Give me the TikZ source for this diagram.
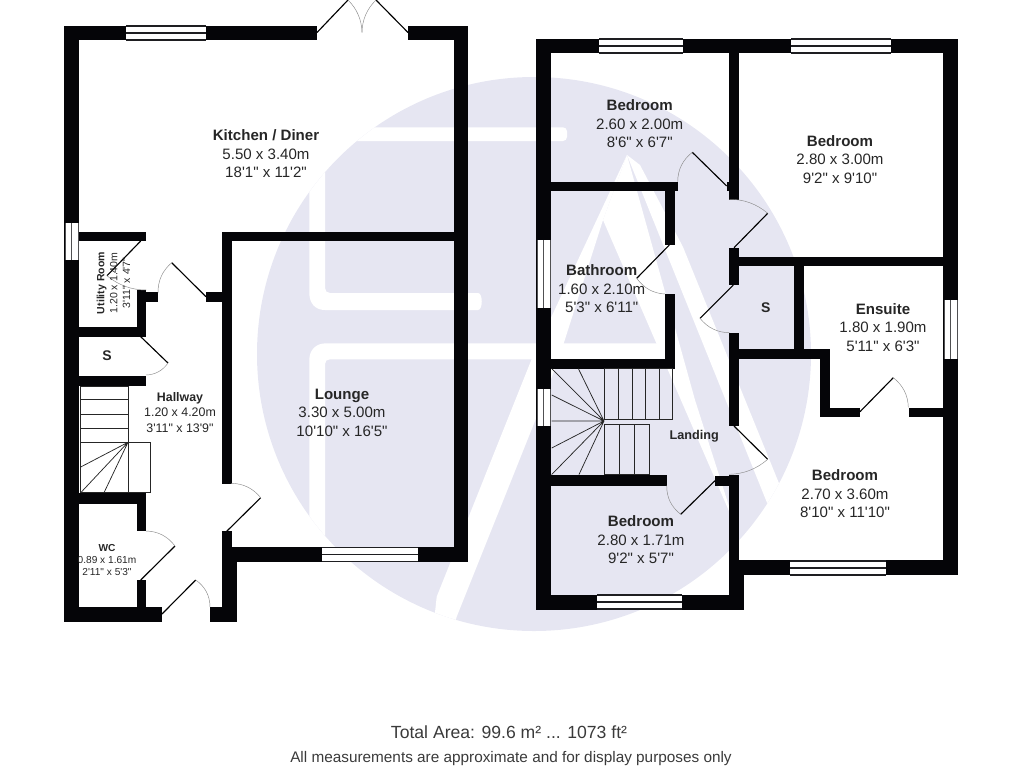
\documentclass[tikz,border=0pt]{standalone}
\usepackage{fontspec}
\usetikzlibrary{calc}
\newfontfamily\planfont{Liberation Sans}
\definecolor{wallc}{HTML}{050508}
\definecolor{lav}{HTML}{E6E6F2}
\definecolor{labelc}{HTML}{262626}
\definecolor{footc}{HTML}{3A3A3A}
\newcommand\wall[4]{\fill[wallc] (#1,#2) rectangle (#3,#4);}
\newcommand\winh[3]{% x1 x2 ytop : horizontal window, 14 deep
  \fill[white] (#1,#3) rectangle (#2,#3+14);
  \draw[winline] (#1,#3) -- (#2,#3) (#1,#3+7) -- (#2,#3+7) (#1,#3+14) -- (#2,#3+14);}
\newcommand\winv[3]{% y1 y2 xleft : vertical window, 14 deep
  \fill[white] (#3,#1) rectangle (#3+13,#2);
  \draw[winsoft] (#3,#1) -- (#3,#2) (#3+6.5,#1) -- (#3+6.5,#2) (#3+13,#1) -- (#3+13,#2);}
\newcommand\door[3]{% hinge tip end (a 45 degree swing)
  \draw[leaf] (#1) -- (#2);
  \draw[swing] (#2) .. controls ($0.724*(#2)+0.391*(#3)-0.115*(#1)$) and ($0.724*(#3)+0.391*(#2)-0.115*(#1)$) .. (#3);}
\tikzset{
  winline/.style={line width=0.8pt,wallc!90!white},
  winsoft/.style={line width=0.6pt,wallc!70!white},
  leaf/.style={line width=0.85pt,black},
  swing/.style={line width=0.35pt,black!45},
  stairline/.style={line width=0.55pt,black!85},
  roomtext/.style={align=center,inner sep=0pt,text=labelc,font=\planfont\fontsize{11.3}{13.8}\selectfont},
  smalltext/.style={align=center,inner sep=0pt,text=labelc,font=\planfont\fontsize{9.3}{11.4}\selectfont},
  tinytext/.style={align=center,inner sep=0pt,text=labelc,font=\planfont\fontsize{7.6}{9.2}\selectfont},
  utiltext/.style={align=center,inner sep=0pt,text=labelc,rotate=90,font=\planfont\fontsize{7.9}{9.6}\selectfont},
  boldtext/.style={inner sep=0pt,text=labelc,font=\planfont\bfseries\fontsize{10.5}{12}\selectfont},
  landtext/.style={inner sep=0pt,text=labelc,font=\planfont\bfseries\fontsize{9.5}{12}\selectfont},
  foottext/.style={inner sep=0pt,text=footc,font=\planfont\fontsize{#1}{14}\selectfont},
}
\begin{document}
\begin{tikzpicture}[x=0.75pt,y=-0.75pt]
\useasboundingbox (0,0) rectangle (1024,768);
% watermark
\fill[lav] (534,354) circle[radius=207.75pt];
\begin{scope}
\clip (534,354) circle[radius=207.75pt];
\fill[white,rounded corners=3pt] (250,127.3) -- (567,127.3) -- (567,141) -- (250,141) -- cycle;
\fill[white] (309.3,100) -- (325,100) -- (325,288) .. controls (325,291) and (327,293) .. (330,293) -- (478,293) .. controls (483,293) and (483,310) .. (478,310) -- (325,310) .. controls (315,310) and (309.3,303) .. (309.3,293) -- cycle;
\fill[white] (309.3,640) -- (309.3,360) .. controls (309.3,350) and (316,343.3) .. (326,343.3) -- (672,343.3) -- (672,359.3) -- (330,359.3) .. controls (327,359.3) and (325,361) .. (325,364) -- (325,640) -- cycle;
% A: left leg, stripe to the right of the inner triangle, outer right stripe
\fill[white] (627,155) -- (531.7,359) -- (436.7,596.7) -- (432,640) -- (450,640) -- (456.7,616.7) -- (543.4,400) -- (560,355) -- (603,220) -- cycle;
\fill[white] (627,155) -- (603,220) -- (735,525) -- (695,400) -- cycle;
\fill[white] (664,247) -- (683,247) -- (800,535) -- (780,535) -- cycle;
\fill[white] (627,155) -- (664,247) -- (683,247) -- (640,165) -- cycle;
\end{scope}
% ground floor walls
\wall{64}{25.5}{317}{40}
\wall{408}{25.5}{468}{40}
\wall{64}{25.5}{79}{622}
\wall{454}{25.5}{468}{562}
\wall{222}{231.5}{454}{241}
\wall{222}{231.5}{231.5}{302}
\wall{206}{292}{231.5}{302}
\wall{222}{302}{231.5}{483.5}
\wall{222}{531}{231.5}{562}
\wall{222}{547}{468}{562}
\wall{222}{547}{237}{622}
\wall{210}{607}{237}{622}
\wall{64}{607}{162}{622}
\wall{79}{231.5}{146}{241}
\wall{137}{290}{146}{337}
\wall{137}{292}{158}{302}
\wall{79}{327}{146}{337}
\wall{79}{376}{146}{386}
\wall{79}{493}{146}{504}
\wall{137}{493}{146}{531}
\wall{137}{580}{146}{607}
% upper floor walls
\wall{536}{38.5}{957.5}{53}
\wall{536}{38.5}{551}{609.5}
\wall{943}{38.5}{957.5}{575}
\wall{729}{53}{739}{199.5}
\wall{726.5}{181.5}{729}{191}
\wall{551}{181.5}{677.5}{191}
\wall{665}{191}{675}{245}
\wall{665}{294}{675}{368.5}
\wall{551}{358.5}{675}{368.5}
\wall{729}{247.5}{739}{285}
\wall{739}{256.5}{943}{266}
\wall{793.5}{266}{803.5}{348.5}
\wall{729}{332.5}{739}{425.5}
\wall{739}{348.5}{829.5}{358.5}
\wall{819.5}{348.5}{829.5}{417}
\wall{819.5}{407.5}{860}{417}
\wall{908.5}{407.5}{943}{417}
\wall{551}{474.5}{666.5}{485.5}
\wall{715}{475.5}{729}{485.5}
\wall{729}{474.5}{739}{575}
\wall{729}{560}{957.5}{575}
\wall{729}{560}{744}{609.5}
\wall{536}{594.5}{744}{609.5}
% windows
\winh{126}{206}{26}
\winv{223}{260}{65}
\winh{322}{418}{547.5}
\winh{599}{683}{39}
\winh{791}{890.5}{39}
\winv{240}{307.5}{537}
\winv{389}{426}{537}
\winv{300}{358.5}{944}
\winh{597}{682}{595}
\winh{790}{886}{561}
% ground stairs
\draw[stairline] (80,386.7) rectangle (128,492.7);
\draw[stairline] (128,442.3) rectangle (150.7,492.7);
\draw[stairline] (80,399.3) -- (128,399.3) (80,414) -- (128,414) (80,428.3) -- (128,428.3) (80,442.3) -- (128,442.3);
\draw[stairline] (128,442.3) -- (80.7,467) (128,442.3) -- (80.7,492.7) (128,442.3) -- (104,492.7);
% upper stairs
\coordinate (wind) at (604,421);
\draw[stairline] (604.3,368.5) rectangle (672.7,419);
\draw[stairline] (618.3,368.5) -- (618.3,419) (632,368.5) -- (632,419) (645.7,368.5) -- (645.7,419) (659.3,368.5) -- (659.3,419);
\draw[stairline] (604.3,424.7) rectangle (649.3,474.5);
\draw[stairline] (619.3,424.7) -- (619.3,474.5) (634.7,424.7) -- (634.7,474.5);
\draw[stairline] (wind) -- (551.7,368.5) (wind) -- (578.3,368.5) (wind) -- (551.7,395) (wind) -- (551.7,421) (wind) -- (551.7,448) (wind) -- (551.7,474.5) (wind) -- (579,474.5);
% doors
\door{317,32.5}{348,0}{362,32.5}
\door{408,32.5}{376,0}{362,32.5}
\door{140.7,241}{107,275.7}{146.5,290}
\door{206,296.7}{171.7,262.7}{158,293}
\door{140.7,336.7}{168,363}{146,375}
\door{140.7,580}{175,546}{146,531}
\door{226.7,531.3}{260.7,497.7}{231,483.3}
\door{162,614}{195.7,580}{210,607}
\door{726.7,186}{692.3,152.3}{677.7,181.7}
\door{669.3,245}{636.7,278.3}{665,294}
\door{734,247.7}{767.7,213.3}{729.3,199.3}
\door{733.3,285}{700,318.3}{729.3,332.7}
\door{734,426}{767.7,459.3}{729.3,474.3}
\door{715,480.7}{680.7,514.3}{666.7,485.7}
\door{860,411.7}{893.3,377.7}{908.3,407.3}
% labels
\node[roomtext] (kitchen) at (266,154) {\textbf{Kitchen / Diner}\\5.50 x 3.40m\\18'1" x 11'2"};
\node[utiltext] (utility) at (113.5,283) {\textbf{Utility Room}\\1.20 x 1.40m\\3'11" x 4'7"};
\node[boldtext] (sground) at (107,355.7) {S};
\node[smalltext] (hallway) at (180,412.5) {\textbf{Hallway}\\1.20 x 4.20m\\3'11" x 13'9"};
\node[tinytext] (wc) at (107,560) {\textbf{WC}\\0.89 x 1.61m\\2'11" x 5'3"};
\node[roomtext] (lounge) at (342,412.5) {\textbf{Lounge}\\3.30 x 5.00m\\10'10" x 16'5"};
\node[roomtext] (bed1) at (639.7,124) {\textbf{Bedroom}\\2.60 x 2.00m\\8'6" x 6'7"};
\node[roomtext] (bed2) at (840,159.3) {\textbf{Bedroom}\\2.80 x 3.00m\\9'2" x 9'10"};
\node[roomtext] (bath) at (601.7,289) {\textbf{Bathroom}\\1.60 x 2.10m\\5'3" x 6'11"};
\node[boldtext] (supper) at (765.7,307.3) {S};
\node[roomtext] (ensuite) at (883,327.3) {\textbf{Ensuite}\\1.80 x 1.90m\\5'11" x 6'3"};
\node[landtext] (landing) at (694.3,436.7) {Landing};
\node[roomtext] (bed3) at (641,540) {\textbf{Bedroom}\\2.80 x 1.71m\\9'2" x 5'7"};
\node[roomtext] (bed4) at (845,494) {\textbf{Bedroom}\\2.70 x 3.60m\\8'10" x 11'10"};
\node[foottext=13.2] (area) at (509,732) {Total Area: 99.6 m² ... 1073 ft²};
\node[foottext=11.5] (note) at (511,759) {All measurements are approximate and for display purposes only};
\end{tikzpicture}
\end{document}
